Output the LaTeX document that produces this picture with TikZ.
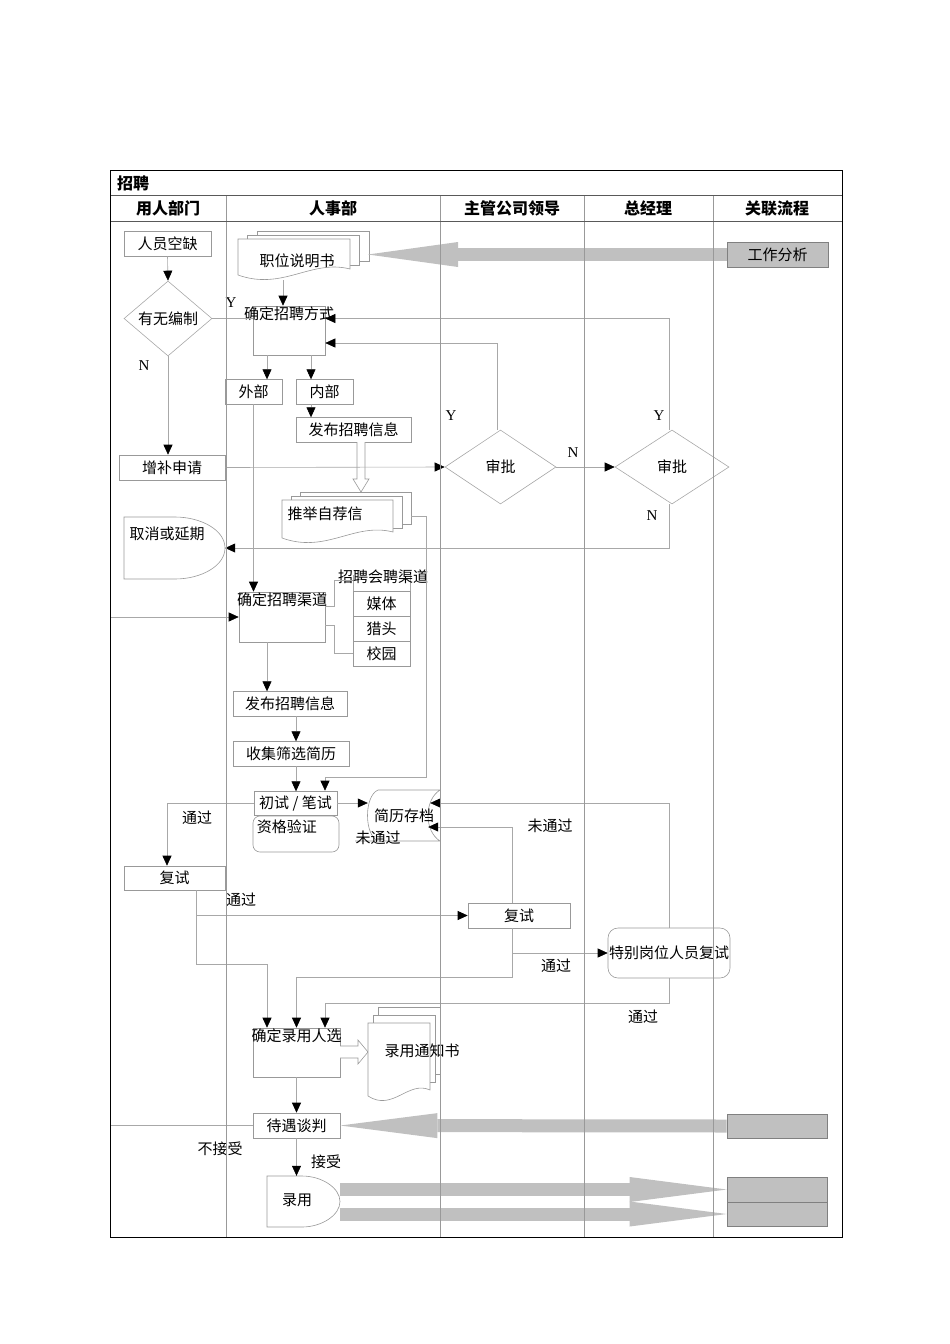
\documentclass[tikz,border=0pt]{standalone}
\usepackage{fontspec}
\setmainfont{Liberation Serif}
\newfontfamily\cjk{Noto Sans CJK SC}
\usetikzlibrary{arrows.meta,positioning,shapes.geometric}

\definecolor{lane}{HTML}{999999}
\definecolor{wire}{HTML}{A8A8A8}
\definecolor{band}{HTML}{C0C0C0}

\newcommand\docpile[6]{%
  \draw[doc] (#1+2*#5,#2-2*#6) rectangle ++(#3,#4);
  \draw[doc] (#1+#5,#2-#6) rectangle ++(#3,#4);
  \draw[doc] (#1,#2) -- (#1+#3,#2) -- (#1+#3,#2+#4)
    .. controls (#1+0.65*#3,#2+#4-10) and (#1+0.4*#3,#2+#4+22) .. (#1,#2+#4+6) -- cycle;
}

\begin{document}
\begin{tikzpicture}[x=1pt,y=-1pt,
  box/.style={draw=lane,fill=white,line width=.6pt,inner sep=1pt,font=\cjk\fontsize{15}{17}\selectfont},
  decide/.style={diamond,draw=wire,fill=white,line width=.6pt,inner sep=0pt,font=\cjk\fontsize{15}{17}\selectfont},
  txt/.style={inner sep=1pt,font=\cjk\fontsize{15}{17}\selectfont},
  yn/.style={inner sep=1pt,font=\fontsize{15}{17}\selectfont},
  head/.style={inner sep=1pt,font=\cjk\bfseries\fontsize{16}{18}\selectfont},
  doc/.style={draw=lane,fill=white,line width=.6pt},
  line/.style={draw=wire,line width=.6pt},
  conn/.style={line,-{Triangle[length=10pt,width=9pt,color=black]}},
  bigarr/.style={draw=band,line width=13pt,-{Triangle[length=#1,width=25pt,line width=0pt]}},
  gbox/.style={box,fill=band,draw=gray}
]
\useasboundingbox (0,0) rectangle (950,1344);

\node[head,anchor=west] (title) at (116,183) {招聘};
\node[head] (h1) at (168,208) {用人部门};
\node[head] (h2) at (333,208) {人事部};
\node[head] (h3) at (512,208) {主管公司领导};
\node[head] (h4) at (648,208) {总经理};
\node[head] (h5) at (777,208) {关联流程};

\node[box,minimum width=87pt,minimum height=25pt] (vac) at (167.5,243.5) {人员空缺};
\node[decide,minimum width=88pt,minimum height=75pt] (quota) at (168,318.5) {有无编制};
\node[box,minimum width=106pt,minimum height=25pt] (add) at (172,467.5) {增补申请};
\draw[doc] (124,517) -- (175,517) .. controls (201,517) and (225,530) .. (225,548)
  .. controls (225,566) and (201,579) .. (175,579) -- (124,579) -- cycle;
\node[minimum width=101pt,minimum height=62pt,inner sep=0pt] (cancel) at (174.5,548) {};
\node[txt] (cancel-t) at (167,534) {取消或延期};
\node[box,minimum width=101pt,minimum height=24pt] (retestA) at (174.5,878) {复试};

\docpile{238}{239}{112}{30}{9.5}{4}
\node[txt] (jd) at (297,261) {职位说明书};
\coordinate (jdfoot) at (283,280);
\coordinate (jdback) at (368,254.5);
\node[box,minimum width=72pt,minimum height=49pt,label={[txt,anchor=north]north:确定招聘方式}] (fs) at (289,330.5) {};
\node[box,minimum width=57pt,minimum height=25pt] (ext) at (253.5,391.5) {外部};
\node[box,minimum width=57pt,minimum height=25pt] (int) at (324.5,391.5) {内部};
\node[box,minimum width=115pt,minimum height=25pt] (pub1) at (353.5,429.5) {发布招聘信息};
\draw[doc] (357,442) -- (357,479) -- (353,479) -- (361,492) -- (369,479) -- (365,479) -- (365,442);
\docpile{282}{500}{111}{32}{9}{4}
\node[txt] (rec) at (325,514) {推举自荐信};
\coordinate (recback) at (411,516);

\node[box,minimum width=86pt,minimum height=50pt,label={[txt,anchor=north]north:确定招聘渠道}] (chan) at (282,617) {};
\draw[line] (353,575) -- (353,591) (410,575) -- (410,591);
\coordinate (fair) at (353,580);
\node[txt] (fair-t) at (383,577) {招聘会聘渠道};
\node[box,minimum width=57pt,minimum height=25pt] (media) at (381.5,603.5) {媒体};
\node[box,minimum width=57pt,minimum height=25pt] (hunt) at (381.5,628.5) {猎头};
\node[box,minimum width=57pt,minimum height=25pt] (camp) at (381.5,653.5) {校园};
\node[box,minimum width=114pt,minimum height=25pt] (pub2) at (290,703.5) {发布招聘信息};
\node[box,minimum width=116pt,minimum height=25pt] (coll) at (291,753.5) {收集筛选简历};
\node[box,rounded corners=7pt,minimum width=86pt,minimum height=36pt,
  label={[txt,anchor=north west,xshift=3pt,yshift=-3pt]north west:资格验证}] (qual) at (296,834) {};
\node[box,minimum width=83pt,minimum height=24pt] (init) at (295.5,803) {初试 / 笔试};
\draw[doc] (378,790) -- (440,790) .. controls (424,800) and (424,831) .. (440,841)
  -- (355,841) (378,841) .. controls (364,835) and (364,796) .. (378,790);
\node[txt,minimum width=72pt,minimum height=51pt] (arch) at (404,815.5) {简历存档};

\node[box,minimum width=87pt,minimum height=49pt,label={[txt,anchor=north]north:确定录用人选}] (hire) at (296.5,1052.5) {};
\fill[band] (340,1046) rectangle (344,1058);
\draw[doc] (340,1046) -- (358,1046) -- (358,1040) -- (368,1052) -- (358,1064) -- (358,1058) -- (340,1058);
\docpile{368}{1023}{62}{67}{5}{8}
\node[txt] (notice) at (422,1051) {录用通知书};
\node[box,minimum width=87pt,minimum height=25pt] (nego) at (296.5,1125.5) {待遇谈判};
\draw[doc] (267,1176) -- (302,1176) .. controls (322,1176) and (340,1188) .. (340,1201.5)
  .. controls (340,1215) and (322,1227) .. (302,1227) -- (267,1227) -- cycle;
\node[minimum width=73pt,minimum height=51pt,inner sep=0pt] (emp) at (303.5,1201.5) {};
\node[txt] (emp-t) at (297,1200) {录用};

\node[decide,minimum width=111pt,minimum height=74pt] (app1) at (500.5,467) {审批};
\node[box,minimum width=102pt,minimum height=25pt] (retestM) at (519,915.5) {复试};
\node[decide,minimum width=114pt,minimum height=74pt] (app2) at (672,467) {审批};
\node[box,rounded corners=10pt,minimum width=116pt,minimum height=50pt] (special) at (669,953) {特别岗位人员复试};

\node[gbox,minimum width=101pt,minimum height=25pt] (ja) at (777.5,254.5) {工作分析};
\node[gbox,minimum width=100pt,minimum height=24pt] (g1) at (777,1126) {};
\node[gbox,minimum width=100pt,minimum height=25pt] (g2) at (777,1189.5) {};
\node[gbox,minimum width=100pt,minimum height=24pt] (g3) at (777,1214) {};
\coordinate (edge) at (110,617);

\draw[bigarr=90pt] (ja.west) -- (jdback);
\draw[bigarr=97pt] (g1.west) -- (nego.east);
\draw[bigarr=97pt] (g2.west -| emp.east) -- (g2.west);
\draw[bigarr=97pt] (g3.west -| emp.east) -- (g3.west);

\draw[conn] (vac.south) -- (quota.north);
\draw[line] (quota.east) -- (quota.east -| fs.west);
\draw[conn] (quota.south) -- (quota.south |- add.north);
\draw[conn] (add.east) -- (app1.west);
\draw[conn] (app1.east) -- (app2.west);
\draw[conn] ([xshift=-3pt]app1.north) |- ([yshift=-12.5pt]fs.east);
\draw[conn] ([xshift=-3pt]app2.north) |- ([yshift=12pt]fs.east);
\draw[conn] ([xshift=-3pt]app2.south) |- (cancel.east);
\draw[conn] (jdfoot) -- (jdfoot |- fs.north);
\draw[conn] ([xshift=-22pt]fs.south) -- ++(0,24);
\draw[conn] ([xshift=22pt]fs.south) -- ++(0,24);
\draw[conn] ([xshift=-13.5pt]int.south) -- ++(0,13);
\draw[conn] (ext.south) -- (ext.south |- chan.north);
\draw[line] ([yshift=11pt]chan.east) -- ++(9,0) |- (fair);
\draw[line] ([yshift=-8pt]chan.east) -- ++(9,0) |- (camp.west);
\draw[conn] (nego.west) -| (edge) -- (chan.west);
\draw[conn] ([xshift=-15pt]chan.south) -- ++(0,49);
\draw[conn] ([xshift=6pt]pub2.south) -- ++(0,25);
\draw[conn] ([xshift=5pt]coll.south) -- ++(0,25);
\draw[conn] (recback) -- ++(15,0) -- ++(0,261) -| ([xshift=29.5pt]init.north);
\draw[conn] (init.east) -- (init.east -| arch.west);
\draw[conn] (init.west) -| ([xshift=-7.5pt]retestA.north);
\draw[conn] ([xshift=21.5pt]retestA.south) |- (retestM.west);
\draw[conn] ([xshift=21.5pt]retestA.south) -- ++(0,74) -| ([xshift=-29.5pt]hire.north);
\draw[conn] ([xshift=-7pt]retestM.north) |- ([xshift=-12pt,yshift=-11.5pt]arch.east);
\draw[conn] (special.north) |- ([xshift=-10pt,yshift=12.5pt]arch.east);
\draw[conn] ([xshift=-7pt]retestM.south) |- (special.west);
\draw[conn] ([xshift=-7pt]retestM.south) -- ++(0,49) -| (hire.north);
\draw[conn] (special.south) -- ++(0,25) -| ([xshift=28.5pt]hire.north);
\draw[conn] (hire.south) -- (nego.north);
\draw[conn] (nego.south) -- (nego.south |- emp.north);

\node[yn] (yA) at (231,303) {Y};
\node[yn] (nA) at (144,366) {N};
\node[yn] (yB) at (451,416) {Y};
\node[yn] (nB) at (573,453) {N};
\node[yn] (yC) at (659,416) {Y};
\node[yn] (nC) at (652,516) {N};
\node[txt] (pass1) at (197,818) {通过};
\node[txt] (fail1) at (378,838) {未通过};
\node[txt] (fail2) at (550,826) {未通过};
\node[txt] (pass2) at (241,900) {通过};
\node[txt] (pass3) at (556,966) {通过};
\node[txt] (pass4) at (643,1017) {通过};
\node[txt] (refuse) at (220,1149) {不接受};
\node[txt] (accept) at (326,1162) {接受};

\foreach \x in {226,440,584,713}
  \draw[lane,line width=.8pt] (\x,195) -- (\x,1237);
\draw[gray!70!black,line width=.8pt] (110,195) -- (842,195) (110,221) -- (842,221);
\draw[line width=1pt] (110,170) rectangle (842,1237);
\end{tikzpicture}
\end{document}
